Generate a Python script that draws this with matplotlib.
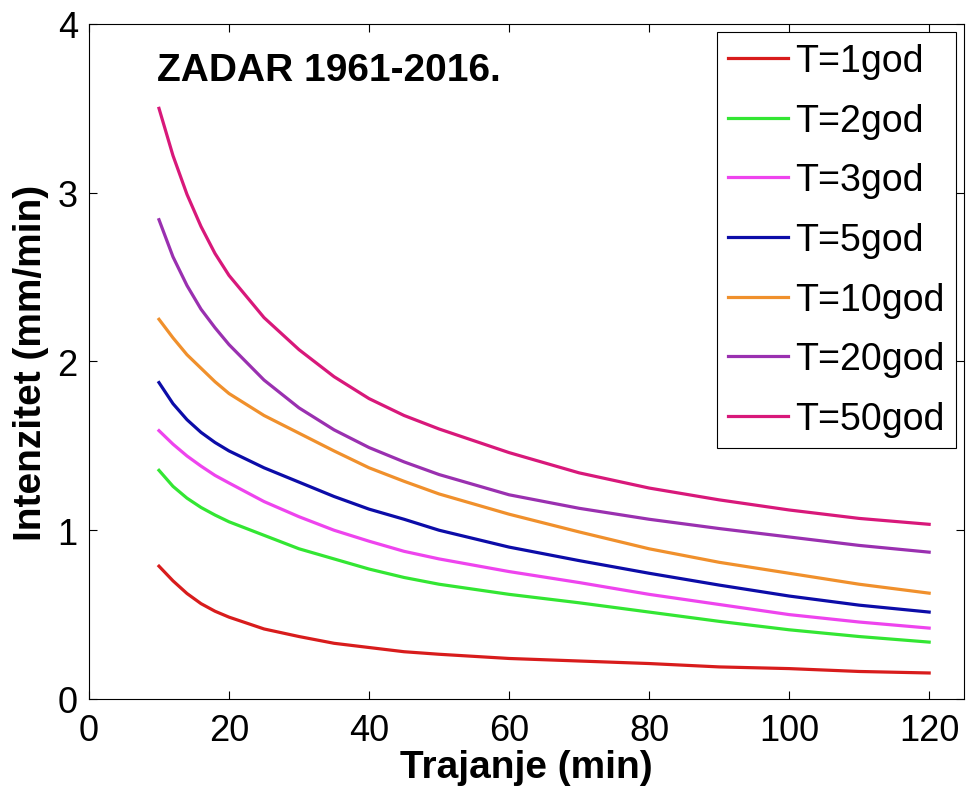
import matplotlib
matplotlib.use('Agg')
import matplotlib.pyplot as plt

# trajanje (min) i intenziteti ocitani s grafa (mm/min)
trajanje = [10, 12, 14, 16, 18, 20, 25, 30, 35, 40, 45, 50, 60, 70, 80, 90, 100, 110, 120]

t1 = [0.787, 0.70, 0.625, 0.565, 0.52, 0.485, 0.415, 0.37, 0.33, 0.305, 0.28, 0.265,
      0.24, 0.225, 0.21, 0.19, 0.18, 0.163, 0.154]
t2 = [1.355, 1.26, 1.19, 1.135, 1.09, 1.05, 0.97, 0.89, 0.83, 0.77, 0.72, 0.68,
      0.62, 0.57, 0.515, 0.46, 0.41, 0.37, 0.337]
t3 = [1.59, 1.51, 1.44, 1.38, 1.325, 1.28, 1.17, 1.08, 1.00, 0.935, 0.875, 0.83,
      0.755, 0.69, 0.62, 0.56, 0.50, 0.456, 0.42]
t5 = [1.875, 1.75, 1.655, 1.58, 1.52, 1.47, 1.37, 1.285, 1.20, 1.125, 1.065, 1.00,
      0.90, 0.82, 0.745, 0.675, 0.61, 0.556, 0.515]
t10 = [2.25, 2.14, 2.04, 1.96, 1.88, 1.81, 1.68, 1.575, 1.47, 1.37, 1.29, 1.215,
       1.095, 0.99, 0.89, 0.81, 0.745, 0.68, 0.627]
t20 = [2.84, 2.62, 2.45, 2.31, 2.20, 2.10, 1.89, 1.725, 1.595, 1.49, 1.405, 1.33,
       1.21, 1.13, 1.065, 1.01, 0.96, 0.91, 0.87]
t50 = [3.50, 3.22, 2.99, 2.80, 2.64, 2.51, 2.26, 2.07, 1.91, 1.78, 1.68, 1.60,
       1.46, 1.34, 1.25, 1.18, 1.12, 1.07, 1.035]

labels = ['T=1god', 'T=2god', 'T=3god', 'T=5god', 'T=10god', 'T=20god', 'T=50god']
colors = ['#d81c1c', '#33e633', '#ee44ee', '#0c0ca8', '#f0902c', '#9a30b0', '#d8187a']

plt.rcParams['font.family'] = ['Liberation Sans', 'DejaVu Sans']

fig = plt.figure(figsize=(9.66, 8.03), dpi=100)
ax = fig.add_axes([0.0921, 0.1283, 0.906, 0.8406])

for series, lab, col in zip([t1, t2, t3, t5, t10, t20, t50], labels, colors):
    ax.plot(trajanje, series, color=col, lw=2.3, label=lab)

ax.set_xlim(0, 125)
ax.set_ylim(0, 4)
ax.set_xticks([0, 20, 40, 60, 80, 100, 120])
ax.set_yticks([0, 1, 2, 3, 4])
ax.tick_params(direction='in', top=True, right=True, length=6, width=0.8, labelsize=26)
ax.tick_params(axis='x', pad=10)
ax.tick_params(axis='y', pad=8)
for s in ax.spines.values():
    s.set_linewidth(0.8)

ax.set_xlabel('Trajanje (min)', fontsize=28, fontweight='bold', labelpad=1)
ax.set_ylabel('Intenzitet (mm/min)', fontsize=28, fontweight='bold', labelpad=6)

ax.text(9.7, 3.67, 'ZADAR 1961-2016.', fontsize=28, fontweight='bold', va='baseline')

leg = ax.legend(loc='upper right', bbox_to_anchor=(1 - 8 / 875, 1 - 8 / 675),
                borderaxespad=0, fontsize=27, handlelength=1.6, handletextpad=0.2,
                labelspacing=0.63, borderpad=0.3, fancybox=False, framealpha=1)
leg.get_frame().set_edgecolor('black')
leg.get_frame().set_linewidth(0.8)

fig.savefig('out.png', dpi=100)
